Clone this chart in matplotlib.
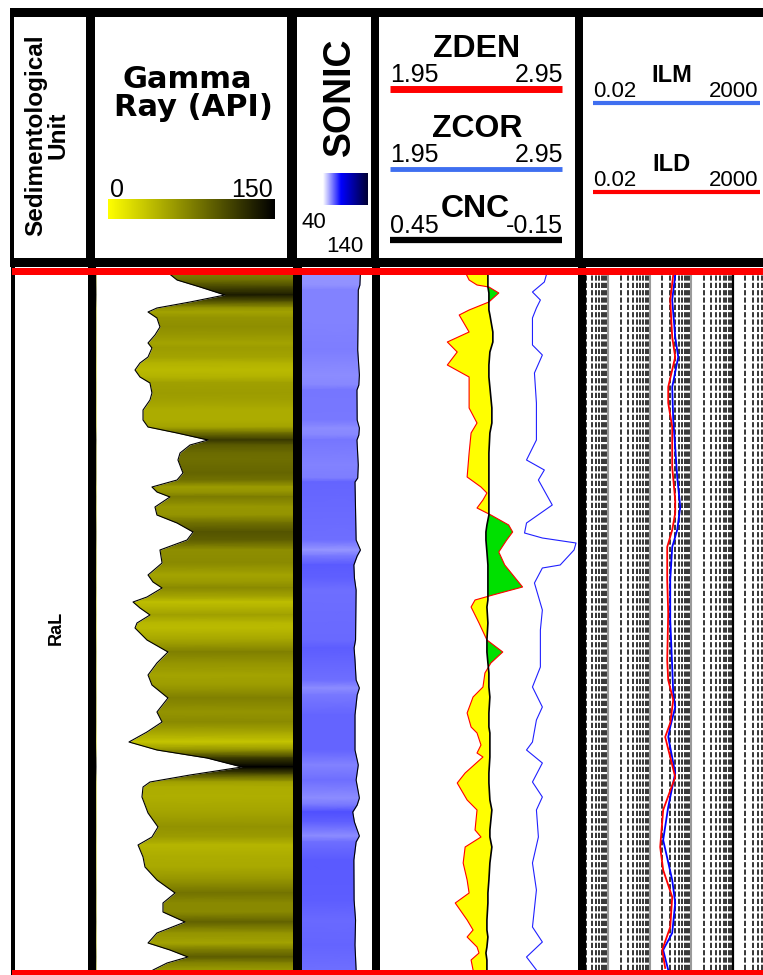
import numpy as np
import matplotlib.pyplot as plt
from matplotlib.colors import LinearSegmentedColormap, Normalize
from matplotlib.patches import Rectangle

plt.rcParams['font.family'] = ['Liberation Sans', 'DejaVu Sans']

# -----------------------------
# Log data (depth in m below top of interval)
# -----------------------------
gr_depth = [0.0, 0.8, 1.5, 2.3, 3.0, 3.6, 4.0, 4.6, 5.5, 6.3, 7.1, 7.6, 8.5, 9.1, 9.8,
            10.5, 11.1, 12.1, 12.8, 13.8, 14.8, 15.5, 16.1, 16.8, 17.3, 18.1, 18.8, 20.1,
            20.8, 21.5, 22.0, 22.5, 23.5, 24.3, 25.1, 26.0, 26.8, 27.8, 29.1, 30.3, 31.0,
            31.6, 32.5, 33.0, 33.6, 34.3, 35.1, 35.6, 36.8, 38.0, 39.1, 40.3, 41.3, 42.6,
            44.0, 45.0, 46.0, 47.0, 47.8, 48.6, 49.5, 50.3, 51.0, 51.5, 52.5, 54.1, 55.5,
            56.5, 57.3, 58.5, 59.5, 60.8, 62.1, 63.1, 64.0, 65.0, 66.1, 67.1, 67.8, 68.5,
            69.1, 69.8]
gr_api = [54.1, 61.7, 79.2, 98.2, 71.6, 46.4, 39.6, 46.4, 48.7, 44.9, 39.6, 42.6, 39.6,
          33.5, 29.7, 33.5, 41.1, 42.6, 41.1, 35.8, 35.8, 39.6, 61.7, 85.3, 71.6, 64.0,
          62.4, 66.2, 61.7, 42.6, 46.4, 56.3, 44.9, 46.4, 61.7, 73.9, 69.3, 48.7, 50.3,
          39.6, 43.4, 50.3, 38.8, 28.2, 33.5, 41.1, 31.2, 29.7, 38.8, 54.8, 46.4, 39.6,
          42.6, 54.8, 46.4, 50.3, 38.8, 25.1, 46.4, 84.5, 111.2, 71.6, 41.1, 35.8, 35.0,
          39.6, 47.2, 42.6, 32.0, 35.8, 37.3, 46.4, 60.2, 51.0, 51.0, 67.8, 46.4, 39.6,
          56.3, 70.0, 54.1, 43.4]

son_depth = [0.0, 1.3, 1.8, 4.8, 7.8, 10.3, 11.3, 11.8, 14.8, 15.6, 16.3, 16.8, 19.3, 20.6,
             21.0, 23.8, 26.8, 27.8, 28.4, 29.3, 30.6, 31.8, 36.8, 37.6, 38.8, 40.8, 41.6,
             42.3, 44.3, 47.8, 49.3, 50.8, 52.6, 53.3, 54.0, 55.0, 56.4, 57.0, 58.8, 62.8,
             64.8, 67.3, 69.8]
son_dt = [56.5, 57.3, 59.6, 59.9, 60.4, 58.0, 58.8, 61.5, 61.2, 58.0, 58.8, 61.5, 59.6, 60.4,
          64.3, 63.5, 62.7, 56.5, 61.2, 65.9, 65.1, 62.7, 63.5, 65.6, 64.3, 62.7, 58.0,
          61.2, 64.3, 64.3, 59.6, 62.7, 58.0, 61.2, 67.5, 65.1, 58.0, 62.7, 65.9, 65.6,
          63.5, 64.3, 62.7]

den_depth = [0.0, 0.8, 1.3, 1.5, 2.1, 3.0, 3.8, 4.3, 6.0, 7.0, 8.0, 9.3, 10.5, 13.6, 15.1,
             16.1, 18.1, 20.5, 21.5, 22.1, 22.8, 23.6, 24.3, 25.3, 26.0, 26.8, 28.0, 29.3,
             31.5, 32.3, 32.8, 33.5, 35.1, 36.8, 38.0, 39.1, 40.1, 41.5, 42.5, 44.1, 45.5,
             46.1, 47.3, 48.1, 48.5, 50.1, 51.1, 52.8, 53.8, 55.8, 56.5, 57.5, 59.1, 60.8,
             62.1, 63.1, 64.8, 65.8, 66.5, 67.5, 68.1, 68.8, 69.8]
zden = [2.38, 2.40, 2.44, 2.50, 2.55, 2.50, 2.40, 2.35, 2.40, 2.29, 2.34, 2.29, 2.40, 2.40,
        2.44, 2.41, 2.40, 2.39, 2.46, 2.49, 2.47, 2.44, 2.51, 2.60, 2.62, 2.59, 2.55, 2.58,
        2.67, 2.52, 2.43, 2.41, 2.45, 2.49, 2.57, 2.51, 2.48, 2.47, 2.42, 2.39, 2.41, 2.44,
        2.46, 2.44, 2.47, 2.38, 2.34, 2.39, 2.44, 2.43, 2.46, 2.38, 2.37, 2.39, 2.40, 2.33,
        2.39, 2.42, 2.39, 2.44, 2.45, 2.41, 2.42]
cnc = [0.123, 0.123, 0.123, 0.123, 0.120, 0.120, 0.120, 0.117, 0.108, 0.108, 0.117, 0.120,
       0.120, 0.111, 0.111, 0.117, 0.120, 0.120, 0.120, 0.120, 0.120, 0.120, 0.120, 0.126,
       0.129, 0.129, 0.126, 0.123, 0.123, 0.123, 0.123, 0.126, 0.123, 0.126, 0.126, 0.123,
       0.120, 0.120, 0.117, 0.120, 0.120, 0.117, 0.117, 0.117, 0.117, 0.120, 0.120, 0.117,
       0.111, 0.117, 0.117, 0.111, 0.117, 0.120, 0.123, 0.123, 0.126, 0.126, 0.123, 0.126,
       0.129, 0.126, 0.126]

zcor_depth = [0.3, 1.0, 2.0, 2.8, 3.6, 4.6, 7.3, 8.3, 10.1, 13.1, 16.8, 18.8, 19.8, 20.8,
              23.3, 25.1, 26.1, 26.6, 27.1, 27.8, 29.3, 29.6, 31.1, 33.8, 35.8, 39.5, 41.5,
              43.5, 44.8, 47.0, 47.8, 49.1, 51.0, 52.5, 53.8, 56.5, 59.1, 61.8, 65.5, 67.0,
              68.5, 69.8]
zcor = [2.79, 2.78, 2.72, 2.76, 2.74, 2.72, 2.72, 2.77, 2.73, 2.74, 2.74, 2.69, 2.78, 2.75,
        2.82, 2.69, 2.68, 2.77, 2.94, 2.93, 2.86, 2.77, 2.73, 2.77, 2.76, 2.76, 2.72, 2.77,
        2.74, 2.72, 2.69, 2.77, 2.72, 2.77, 2.74, 2.75, 2.72, 2.74, 2.72, 2.77, 2.69, 2.74]

ilm_depth = [0.3, 2.8, 6.5, 8.5, 11.5, 14.8, 17.5, 20.5, 23.5, 25.8, 27.5, 30.8, 34.8, 39.5,
             42.1, 43.5, 45.5, 46.5, 50.1, 53.5, 56.8, 60.8, 63.1, 66.1, 67.8, 69.8]
ilm = [4.11, 3.48, 4.11, 4.86, 3.48, 3.68, 4.11, 4.59, 5.43, 4.59, 3.48, 3.12, 3.12, 3.48,
       3.68, 4.11, 3.12, 2.79, 4.11, 2.79, 2.11, 3.48, 4.11, 3.48, 2.11, 2.79]

ild_depth = [0.3, 2.8, 6.5, 8.5, 11.5, 13.1, 15.5, 19.5, 22.8, 24.1, 25.8, 27.5, 30.8, 34.1,
             38.8, 40.8, 42.8, 45.1, 46.5, 50.5, 53.8, 57.5, 59.8, 62.5, 65.5, 67.8, 69.6]
ild = [3.68, 3.12, 3.48, 4.11, 2.79, 2.79, 3.48, 3.48, 4.11, 4.11, 3.48, 2.64, 2.64, 2.79,
       2.64, 2.79, 3.68, 3.12, 2.36, 4.11, 2.11, 1.79, 2.11, 3.48, 3.12, 2.00, 2.36]

unit_label = "RaL"
top, base = 0.0, 69.8

# -----------------------------
# Figure / layout helpers (pixel coords, origin top-left)
# -----------------------------
W, H = 763, 975
fig = plt.figure(figsize=(W / 100, H / 100), dpi=100)


def box(x0, y0, x1, y1):
    return [x0 / W, 1 - y1 / H, (x1 - x0) / W, (y1 - y0) / H]


gr_cmap = LinearSegmentedColormap.from_list('gr', ['#ffff00', '#000000'])
son_cmap = LinearSegmentedColormap.from_list(
    'son', [(0, '#ffffff'), (0.4, '#0000ff'), (1, '#000033')])

# --- Gamma ray track ---
ax_gr = fig.add_axes(box(96, 272, 293, 970))
d = np.asarray(gr_depth)
g = np.asarray(gr_api)
ax_gr.pcolormesh(np.tile([0, 150], (len(d), 1)), np.column_stack([d, d]),
                 np.column_stack([g, g]), cmap=gr_cmap, norm=Normalize(0, 110),
                 shading='gouraud')
ax_gr.fill_betweenx(d, 0, g, color='white', lw=0)
ax_gr.plot(g, d, color='k', lw=0.8, solid_joinstyle='round')
ax_gr.set_xlim(0, 150)
ax_gr.set_ylim(base, top)
ax_gr.set_axis_off()

# --- Sonic track ---
ax_son = fig.add_axes(box(302, 272, 372, 970))
d = np.asarray(son_depth)
s = np.asarray(son_dt)
ax_son.pcolormesh(np.tile([140, 40], (len(d), 1)), np.column_stack([d, d]),
                  np.column_stack([s, s]), cmap=son_cmap, norm=Normalize(40, 140),
                  shading='gouraud')
ax_son.fill_betweenx(d, s, 40, color='white', lw=0)
ax_son.plot(s, d, color='k', lw=0.8)
ax_son.set_xlim(140, 40)
ax_son.set_ylim(base, top)
ax_son.set_axis_off()

# --- Density / neutron track ---
ax_den = fig.add_axes(box(380, 272, 578, 970))
d = np.asarray(den_depth)
zd = np.asarray(zden)
cn = np.asarray(cnc)
cn_eq = 1.95 + (0.45 - cn) / 0.6          # CNC expressed on the ZDEN scale
ax_den.fill_betweenx(d, zd, cn_eq, where=zd <= cn_eq, interpolate=True,
                     color='#ffff00', lw=0)
ax_den.fill_betweenx(d, zd, cn_eq, where=zd >= cn_eq, interpolate=True,
                     color='#00e000', lw=0)
ax_den.plot(zd, d, color='red', lw=0.8)
ax_den.plot(zcor, zcor_depth, color='#2020ff', lw=0.8)
ax_den.set_xlim(1.95, 2.95)
ax_den.set_ylim(base, top)
ax_den.set_axis_off()
ax_cnc = ax_den.twiny()
ax_cnc.plot(cn, d, color='k', lw=1.2)
ax_cnc.set_xlim(0.45, -0.15)
ax_cnc.set_ylim(base, top)
ax_cnc.set_axis_off()

# --- Resistivity track ---
ax_res = fig.add_axes(box(579, 272, 787, 970))
ax_res.set_xscale('log')
for dec in [0.01, 0.1, 1, 10, 100, 1000]:
    for k in range(2, 10):
        v = dec * k
        if 0.02 < v < 2000:
            ax_res.axvline(v, color='k', lw=1.1, dashes=(3.4, 1.4))
for v in [0.1, 1, 10, 1000]:
    ax_res.axvline(v, color='#9a9a9a', lw=1.5)
ax_res.axvline(100, color='k', lw=1.6)
ax_res.plot(ilm, ilm_depth, color='#0000ff', lw=1.3)
ax_res.plot(ild, ild_depth, color='#ff0000', lw=1.3)
ax_res.set_xlim(0.02, 2000)
ax_res.set_ylim(base, top)
ax_res.set_axis_off()

# -----------------------------
# Header and frame overlay
# -----------------------------
ov = fig.add_axes([0, 0, 1, 1], zorder=10)
ov.set_xlim(0, W)
ov.set_ylim(H, 0)
ov.set_axis_off()


def rect(x0, y0, x1, y1, c='k'):
    ov.add_patch(Rectangle((x0, y0), x1 - x0, y1 - y0, color=c, lw=0))


# header frame
rect(10, 8, 763, 17)
rect(10, 258, 763, 267)
rect(10, 8, 14, 267)
for x0, x1 in [(86, 95), (287, 297), (371, 379), (575, 583)]:
    rect(x0, 8, x1, 267)
# data frame
rect(11, 267, 15, 975)
for x0, x1 in [(88, 96), (293, 302), (372, 380), (578, 586)]:
    rect(x0, 267, x1, 975)
rect(12, 268, 763, 275, 'red')
rect(12, 970, 763, 975, 'red')

bold = dict(fontweight='bold', color='k')
ov.text(47, 135, 'Sedimentological\nUnit', rotation=90, ha='center', va='center',
        multialignment='center', fontsize=17.5, linespacing=1.0, **bold)
ov.text(56, 628, unit_label, rotation=90, ha='center', va='center', fontsize=13, **bold)

# gamma ray
ov.text(187, 88, 'Gamma', ha='center', va='baseline', fontsize=22,
        family='DejaVu Sans', **bold)
ov.text(193, 116, 'Ray (API)', ha='center', va='baseline', fontsize=22,
        family='DejaVu Sans', **bold)
ov.imshow(np.linspace(0, 1, 256)[None, :], cmap=gr_cmap, aspect='auto',
          extent=(108, 275, 219, 199))
ov.text(110, 197, '0', ha='left', va='baseline', fontsize=18)
ov.text(273, 197, '150', ha='right', va='baseline', fontsize=18)

# sonic
ov.text(340, 97, 'SONIC', rotation=90, ha='center', va='center', fontsize=27, **bold)
ov.imshow(np.linspace(0, 1, 256)[None, :], cmap=son_cmap, aspect='auto',
          extent=(323, 368, 205, 173))
ov.text(302, 228, '40', ha='left', va='baseline', fontsize=16)
ov.text(364, 252, '140', ha='right', va='baseline', fontsize=16)

# density / neutron
for name, yb, col, lw in [('ZDEN', 57, 'red', 5), ('ZCOR', 137, '#3f6ff0', 3.5)]:
    ov.text(477, yb, name, ha='center', va='baseline', fontsize=23, **bold)
    ov.text(390, yb + 25, '1.95', ha='left', va='baseline', fontsize=18)
    ov.text(563, yb + 25, '2.95', ha='right', va='baseline', fontsize=18)
    ov.plot([390, 562], [yb + 31.5, yb + 31.5], color=col, lw=lw, solid_capstyle='butt')
ov.text(475, 217, 'CNC', ha='center', va='baseline', fontsize=23, **bold)
ov.text(390, 233, '0.45', ha='left', va='baseline', fontsize=18)
ov.text(563, 233, '-0.15', ha='right', va='baseline', fontsize=18)
ov.plot([390, 562], [240, 240], color='k', lw=4.5, solid_capstyle='butt')

# resistivity
for name, yb, col in [('ILM', 82, '#3f6ff0'), ('ILD', 171, 'red')]:
    ov.text(672, yb, name, ha='center', va='baseline', fontsize=17, **bold)
    ov.text(593, yb + 15, '0.02', ha='left', va='baseline', fontsize=16)
    ov.text(758, yb + 15, '2000', ha='right', va='baseline', fontsize=16)
    ov.plot([593, 760], [yb + 21, yb + 21], color=col, lw=3, solid_capstyle='butt')

fig.savefig('out.png', dpi=100)
